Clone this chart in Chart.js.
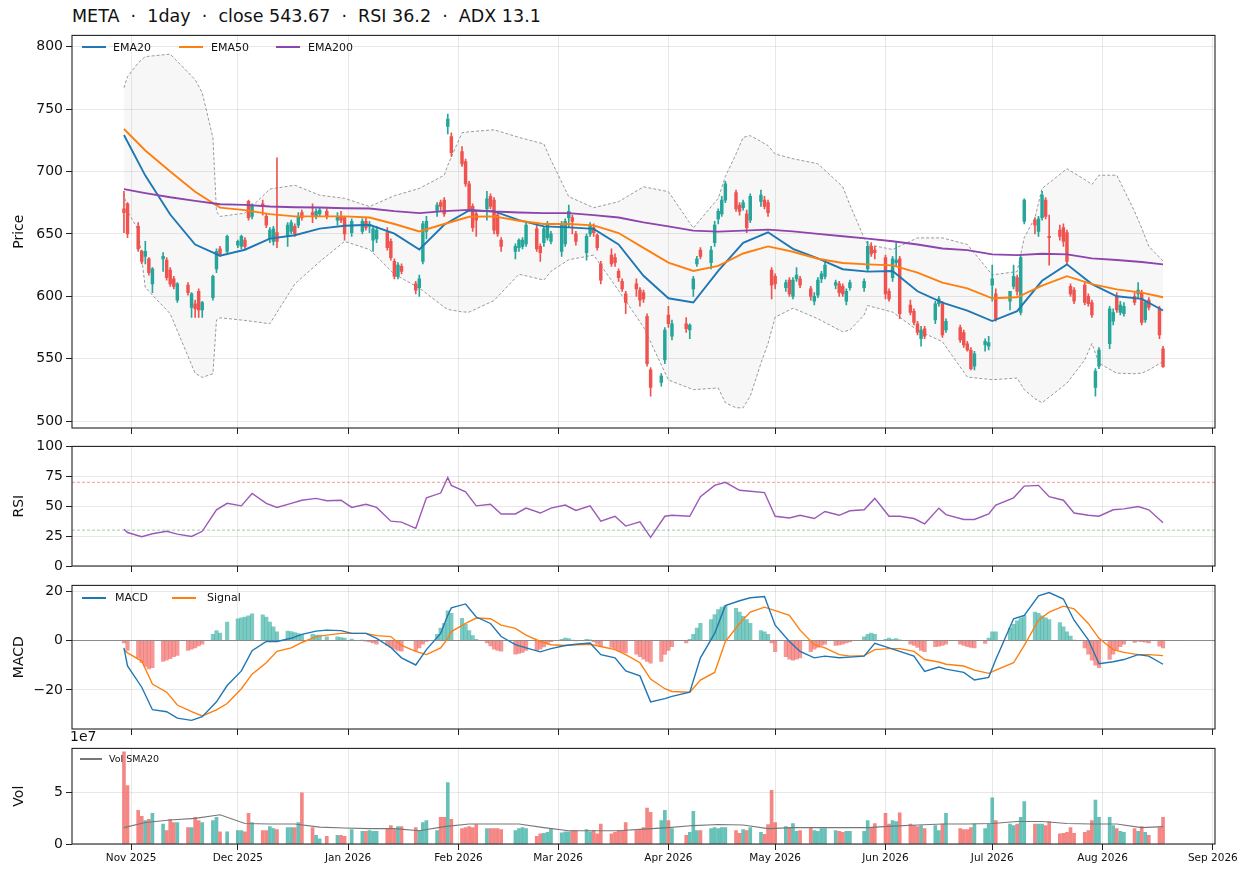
<!DOCTYPE html>
<html>
<head>
<meta charset="utf-8">
<script src="https://cdn.jsdelivr.net/npm/chart.js@4.4.1/dist/chart.umd.min.js"></script>
<style>
  body { margin: 0; background: #fff; font-family: 'DejaVu Sans', sans-serif; color: #111; }
  #wrap { position: relative; width: 1248px; height: 877px; overflow: hidden; }
  canvas { position: absolute; left: 0; }
  .txt { position: absolute; white-space: pre; line-height: 1; }
  .sw { position: absolute; height: 2px; }
</style>
</head>
<body>
<div id="wrap">
  <div class="txt" style="left:72px;top:8px;font-size:17.5px;">META  ·  1day  ·  close 543.67  ·  RSI 36.2  ·  ADX 13.1</div>

  <canvas id="cPrice" width="1248" height="416" style="top:24px"></canvas>
  <canvas id="cRsi" width="1248" height="143" style="top:435px"></canvas>
  <canvas id="cMacd" width="1248" height="167" style="top:574px"></canvas>
  <canvas id="cVol" width="1248" height="139" style="top:737px"></canvas>

  <!-- legends -->
  <div class="sw" style="left:82px;top:46px;width:24px;background:#1f77b4"></div>
  <div class="txt" style="left:113px;top:42px;font-size:11px">EMA20</div>
  <div class="sw" style="left:179px;top:46px;width:24px;background:#ff7f0e"></div>
  <div class="txt" style="left:211px;top:42px;font-size:11px">EMA50</div>
  <div class="sw" style="left:276px;top:46px;width:24px;background:#8e44ad"></div>
  <div class="txt" style="left:308px;top:42px;font-size:11px">EMA200</div>

  <div class="sw" style="left:82px;top:597px;width:24px;background:#1f77b4"></div>
  <div class="txt" style="left:115px;top:592px;font-size:11px">MACD</div>
  <div class="sw" style="left:172px;top:597px;width:24px;background:#ff7f0e"></div>
  <div class="txt" style="left:207px;top:592px;font-size:11px">Signal</div>

  <div class="sw" style="left:80px;top:758px;width:22px;height:1.5px;background:#777"></div>
  <div class="txt" style="left:109px;top:754px;font-size:9.5px">Vol SMA20</div>

  <div class="txt" style="left:70px;top:729px;font-size:14px">1e7</div>
</div>

<script>
// ---- data ----
const holidays = ['2025-11-27', '2025-12-25', '2026-01-01', '2026-01-19', '2026-02-16',
  '2026-04-03', '2026-05-25', '2026-06-19', '2026-07-03'];
const firstDate = '2025-10-30';
const lastDate = '2026-08-18';

// daily candles, one line per week
const opens = [
  670, 674,
  656, 636, 632, 630, 610,
  630, 629, 621, 614, 597,
  609, 591, 594, 604, 589,
  599, 622, 638, 636,
  641, 640, 645, 676, 664,
  674, 664, 646, 644, 651,
  648, 652, 656, 657, 667,
  667, 664, 666, 668,
  661, 664, 663, 651,
  652, 660, 656, 645, 646,
  651, 644, 628, 616, 624,
  610, 607, 628, 652,
  668, 675, 677, 736, 728,
  716, 708, 690, 672, 666,
  670, 680, 677, 665, 645,
  636, 639, 640, 642,
  654, 640, 643, 647, 644,
  636, 642, 663, 663, 650,
  635, 650, 655, 649, 626,
  633, 631, 620, 612, 602,
  610, 605, 603, 584, 541,
  531, 549, 585, 568,
  578, 573, 606, 626, 637,
  627, 643, 662, 666, 677,
  683, 673, 671, 666, 661,
  676, 677, 675, 621, 616,
  607, 613, 600, 614, 614,
  606, 596, 601, 614, 616,
  609, 610, 608, 596, 607,
  607, 622, 640, 637,
  631, 604, 615, 627, 630,
  593, 588, 578, 566, 574,
  581, 594, 594, 573,
  575, 571, 562, 557, 544,
  561, 560, 609, 602,
  596, 608, 615, 587, 660,
  661, 652, 663, 677, 648,
  653, 655, 651, 608, 605,
  609, 600, 595, 527, 544,
  562, 580, 600, 587, 586,
  600, 602, 603, 581, 597,
  590, 558
];
const highs = [
  684, 675,
  659, 637, 644, 631, 623,
  635, 631, 623, 616, 611,
  611, 603, 597, 606, 596,
  617, 638, 640, 649,
  645, 649, 647, 677, 674,
  677, 666, 655, 656, 711,
  659, 661, 658, 667, 669,
  674, 670, 671, 670,
  667, 668, 664, 662,
  662, 663, 660, 656, 656,
  655, 646, 630, 627, 626,
  612, 617, 660, 664,
  675, 677, 679, 746, 731,
  720, 710, 692, 674, 668,
  684, 682, 679, 667, 647,
  642, 646, 647, 660,
  657, 642, 656, 660, 652,
  660, 662, 673, 665, 652,
  650, 659, 658, 650, 628,
  638, 634, 622, 614, 604,
  614, 607, 605, 586, 543,
  538, 575, 592, 581,
  583, 578, 616, 632, 639,
  640, 660, 670, 680, 692,
  685, 675, 677, 669, 682,
  685, 680, 677, 623, 618,
  613, 615, 615, 623, 616,
  608, 603, 615, 620, 627,
  613, 612, 610, 606, 613,
  614, 644, 643, 640,
  633, 606, 632, 643, 632,
  597, 590, 580, 576, 576,
  596, 600, 596, 582,
  577, 573, 564, 559, 556,
  566, 568, 625, 606,
  604, 625, 617, 633, 678,
  663, 664, 684, 679, 665,
  657, 658, 653, 610, 607,
  612, 602, 597, 542, 559,
  592, 590, 603, 596, 595,
  603, 611, 605, 597, 599,
  592, 560
];
const lows = [
  651, 647,
  636, 626, 626, 617, 603,
  620, 613, 608, 606, 595,
  601, 583, 583, 583, 583,
  597, 619, 632, 635,
  639, 638, 638, 661, 662,
  665, 655, 643, 641, 639,
  640, 650, 648, 655, 661,
  659, 662, 664, 662,
  657, 659, 645, 648,
  650, 653, 651, 636, 643,
  637, 629, 614, 614, 618,
  602, 600, 626, 646,
  664, 668, 664, 730, 712,
  704, 688, 668, 652, 648,
  661, 670, 650, 648, 636,
  630, 636, 638, 640,
  636, 628, 640, 645, 642,
  632, 640, 655, 650, 641,
  629, 648, 648, 637, 610,
  624, 624, 612, 604, 586,
  600, 592, 595, 544, 520,
  528, 546, 575, 565,
  571, 566, 600, 624, 630,
  622, 640, 658, 664, 675,
  668, 665, 669, 651, 659,
  672, 670, 664, 598, 606,
  604, 600, 598, 612, 607,
  597, 593, 599, 611, 614,
  606, 600, 600, 593, 605,
  604, 620, 632, 630,
  598, 596, 612, 624, 582,
  585, 577, 569, 560, 566,
  578, 592, 567, 571,
  563, 559, 556, 541, 541,
  556, 557, 596, 580,
  589, 606, 601, 585, 658,
  650, 648, 661, 662, 625,
  645, 640, 626, 600, 594,
  593, 592, 583, 520, 542,
  558, 577, 587, 585, 584,
  593, 599, 577, 579, 589,
  566, 543
];
const closes = [
  667, 650,
  638, 628, 636, 619, 622,
  632, 615, 610, 608, 610,
  603, 602, 590, 589, 595,
  616, 636, 634, 648,
  644, 648, 640, 663, 673,
  672, 657, 653, 654, 644,
  657, 659, 650, 664, 663,
  665, 668, 669, 664,
  664, 661, 650, 660,
  660, 655, 657, 654, 653,
  639, 631, 616, 625, 620,
  605, 614, 658, 660,
  673, 672, 666, 742, 715,
  706, 690, 670, 655, 661,
  678, 672, 653, 650, 640,
  640, 645, 645, 657,
  638, 635, 654, 657, 650,
  657, 660, 668, 660, 644,
  648, 657, 651, 639, 613,
  626, 627, 615, 606, 595,
  606, 597, 598, 546, 527,
  536, 573, 578, 578,
  574, 577, 614, 630, 632,
  637, 657, 668, 677, 690,
  670, 668, 675, 655, 680,
  681, 672, 667, 609, 610,
  611, 602, 613, 617, 609,
  600, 600, 613, 618, 625,
  611, 603, 602, 604, 611,
  612, 640, 634, 635,
  602, 598, 630, 629, 586,
  587, 579, 571, 573, 568,
  594, 598, 569, 580,
  565, 561, 557, 542, 554,
  564, 563, 614, 582,
  604, 616, 604, 631, 677,
  657, 662, 681, 664, 647,
  648, 644, 628, 602, 596,
  595, 594, 585, 540, 557,
  590, 587, 589, 593, 592,
  595, 605, 579, 595, 591,
  569, 543.67
];
// daily volume, millions of shares
const volumes = [
  90, 57,
  33, 27, 23, 24, 30,
  19.5, 13, 24, 21, 21,
  16, 16, 26, 23, 21,
  23, 26, 12, 12,
  13, 13, 12, 30, 21,
  13, 13, 17, 15, 14,
  16, 16, 16, 21, 50,
  16, 8.5, 5, 7.5,
  8.5, 8.5, 7.5, 14,
  12.5, 12.5, 13, 12.5, 12.5,
  15, 18, 14, 17, 17,
  16, 13, 21, 23,
  13, 26, 26, 60, 24,
  15, 16, 17, 16, 19,
  15, 15, 15, 15, 14,
  13, 15, 16, 15,
  7.5, 10, 10.5, 11.5, 15,
  11, 12, 12, 13, 13,
  14, 12, 13, 10, 19.5,
  10, 11.5, 13, 12.5, 21,
  13, 14, 16, 35, 31,
  23, 33, 23, 15,
  8.5, 11.5, 32, 13, 13,
  15, 16, 15, 16, 16,
  13, 10.5, 14, 13, 16,
  11.5, 9.5, 19, 52.5, 21,
  17, 16, 20, 12.5, 13,
  16, 13, 12.5, 15, 15,
  13, 12.5, 11.5, 12.5, 12.5,
  12.5, 23, 16, 20,
  30, 19.5, 23, 22, 30.5,
  19.5, 18, 17, 18, 15,
  18, 13, 19.5, 30,
  15, 14, 14, 16, 19.5,
  15, 19.5, 45, 23,
  19.5, 18, 19.5, 26, 41.5,
  19.5, 19.5, 19.5, 18, 22,
  10, 10.5, 11.5, 16, 10.5,
  11.5, 13, 23, 43, 26,
  26, 18, 15, 12.5, 11.5,
  15, 12.5, 17, 11.5, 8.5,
  16, 26
];
// daily MACD histogram
const macdHist = [
  -1, -4,
  -7, -9, -10.5, -11.5, -11,
  -8.5, -8, -7.3, -6.5, -6,
  -4, -3.5, -3, -2.2, -1.5,
  2.5, 4, 3, 7.5,
  8.8, 9.2, 9.5, 10, 10.8,
  10.4, 9.5, 7.5, 5.5, 3.5,
  3.8, 3.6, 3.2, 2.8, 2.5,
  2.5, 2.2, 2.2, 1.5,
  1.5, 1.2, 1, 0.6,
  0.2, -0.3, -0.6, -1.0, -1.5,
  -2, -2.8, -3.5, -4, -4.3,
  -4.2, -3, -1.5, -0.4,
  2.5, 5, 7, 12, 11,
  9, 6.5, 4, 2, 0.5,
  -1, -2.2, -3.5, -4, -4.3,
  -5.5, -5.2, -4.8, -4,
  -4, -3.5, -2.6, -1.5, -0.5,
  0.5, 1.0, 0.8, 0.2, -0.2,
  0.5, 0.3, -0.6, -1.5, -2.2,
  -2.8, -3.5, -4.2, -4.7, -5,
  -5.5, -6.5, -7.5, -8.5, -9.2,
  -8.5, -5.6, -4, -2.5,
  -1, 0.5, 2.5, 5, 7,
  8.5, 10.5, 12.5, 13.5, 14,
  13, 11.5, 9.8, 8.5, 7,
  4, 3.5, 2.5, -1, -4.5,
  -6.5, -7.5, -8, -7.5, -7,
  -4.5, -3.5, -2.8, -2, -1.5,
  -2, -1.8, -1.5, -1, -0.6,
  1.5, 2.5, 3, 2.5,
  0.5, 1, 0.5, 0.8, 0.3,
  -1.5, -2, -2.8, -4, -4.5,
  -2.5, -2.3, -2, -1.5,
  -1.5, -2, -2.5, -2.8, -3,
  -1.2, 1, 3.5, 3.5,
  5, 6.5, 8, 9.2, 10.2,
  11.5, 11, 10, 9.2, 8.5,
  7.3, 5.5, 3.5, 1.8, 0.2,
  -3, -5.5, -8, -10, -11,
  -7.6, -5.5, -3.8, -2.5, -1.5,
  -0.8, -0.3, -0.5, -0.7, -1,
  -2.3, -3
];

// weekly samples (Wednesdays) for the moving averages
const weekDates = ['2025-10-30', '2025-11-05', '2025-11-12', '2025-11-19', '2025-11-26',
  '2025-12-03', '2025-12-10', '2025-12-17', '2025-12-24', '2025-12-31',
  '2026-01-07', '2026-01-14', '2026-01-21', '2026-01-28', '2026-02-04', '2026-02-11',
  '2026-02-18', '2026-02-25', '2026-03-04', '2026-03-11', '2026-03-18', '2026-03-25',
  '2026-04-01', '2026-04-08', '2026-04-15', '2026-04-22', '2026-04-29', '2026-05-06',
  '2026-05-13', '2026-05-20', '2026-05-27', '2026-06-03', '2026-06-10', '2026-06-17',
  '2026-06-24', '2026-07-01', '2026-07-08', '2026-07-15', '2026-07-22', '2026-07-29',
  '2026-08-05', '2026-08-12', '2026-08-18'];
const ema20 = [729.2, 696.7, 665.5, 641.5, 632.5, 637.3, 646.2, 648.9, 654.2, 656.5,
  657.3, 650.2, 637.5, 657.3, 668.7, 668, 661, 656, 655.2, 654, 641.5, 616.4,
  598.4, 595, 620.3, 642.8, 651.3, 638, 630.4, 621.7, 619.8, 620.3, 604, 595,
  588.6, 580.2, 588.1, 612.4, 625.6, 609.8, 600, 597.9, 588.6];
const ema50 = [734, 716.8, 699.9, 683.8, 671, 669, 665.8, 664, 664, 664,
  663.1, 657.9, 652, 657.9, 663.7, 664, 660.5, 657.9, 657.9, 656.8, 650.7, 638.8,
  627, 620.3, 624.3, 634.3, 640, 635.7, 630.1, 626.7, 625.6, 624.8, 619, 611,
  606.3, 598.4, 599.2, 608.5, 616.1, 609.8, 605.5, 602.9, 599.2];
const ema200 = [685.9, 682.7, 679.3, 676.4, 673.7, 673.2, 671.9, 671.3, 671.1, 670.5,
  670.3, 668.2, 666.6, 668.2, 669.2, 667.9, 667.1, 666.6, 666.6, 665, 663.1, 659.2,
  656, 652.6, 651.8, 652.6, 653.4, 652, 650, 648.1, 646.2, 644.1, 641.5, 638.3,
  637, 633.6, 633, 634.1, 633.6, 630.4, 629.1, 627.5, 625.6];
const volSma20 = [16, 21, 23.5, 25, 28.5, 20, 19.5, 19.5, 16.5, 15.7,
  15, 15, 13, 17, 19.5, 19.5, 19.5, 16, 13, 13, 13, 14.5,
  16, 18, 19, 18.5, 15, 16, 16, 16, 16, 17.5, 18.5, 19.5,
  19.5, 20, 22, 22, 20, 19.5, 19.5, 16, 17];

// Bollinger band samples (weekly plus the sharp turns)
const bbDates = ['2025-10-30', '2025-10-31', '2025-11-03', '2025-11-05', '2025-11-12',
  '2025-11-19', '2025-11-21', '2025-11-24', '2025-11-25', '2025-11-26',
  '2025-12-03', '2025-12-10', '2025-12-17', '2025-12-24', '2025-12-31',
  '2026-01-07', '2026-01-14', '2026-01-21', '2026-01-28', '2026-01-29',
  '2026-02-02', '2026-02-04', '2026-02-11', '2026-02-18', '2026-02-25',
  '2026-02-27', '2026-03-04', '2026-03-11', '2026-03-18', '2026-03-25',
  '2026-04-01', '2026-04-08', '2026-04-15', '2026-04-17', '2026-04-20',
  '2026-04-22', '2026-04-24', '2026-04-27', '2026-04-29', '2026-05-01',
  '2026-05-06', '2026-05-13', '2026-05-20', '2026-05-22', '2026-05-26',
  '2026-05-27', '2026-06-03', '2026-06-10', '2026-06-17', '2026-06-24',
  '2026-07-01', '2026-07-08', '2026-07-10', '2026-07-13', '2026-07-15',
  '2026-07-22', '2026-07-27', '2026-07-29', '2026-07-31', '2026-08-05',
  '2026-08-10', '2026-08-12', '2026-08-14', '2026-08-18'];
const bbUpper = [767, 776, 787, 792, 794,
  773.6, 763, 727, 668, 664,
  666.6, 685.9, 689, 681, 678.5,
  671.9, 680.6, 686.4, 697, 705,
  731, 731.8, 733.4, 727.3, 722,
  709, 679.8, 671, 675.8, 687.7,
  683.8, 654.7, 678.5, 696, 714,
  727.3, 728.7, 724, 720.7, 714,
  710.2, 706.2, 687.7, 673.2, 646.8,
  641.5, 637.5, 646.8, 646.8, 641.5,
  617.2, 619.8, 647, 663, 686.4,
  702.2, 693.5, 689.6, 697, 697,
  668, 654.7, 640, 628.3];
const bbLower = [682.4, 668, 653.4, 607, 586,
  538.4, 535, 538, 581, 582.8,
  580.7, 578, 609.8, 627.7, 644,
  637.5, 617.7, 606.6, 591.3, 589.5,
  587.5, 587.3, 596.6, 617.7, 613,
  620, 629.3, 633, 604.5, 575.4,
  533, 525.2, 526.6, 514.7, 510.7,
  510.7, 520, 546.4, 562.2, 583.3,
  590.5, 582, 571.5, 573, 585,
  592.6, 587.3, 572.8, 563.6, 535.3,
  533.2, 534.5, 525.2, 518, 514.7,
  530.5, 549, 562.2, 546.4, 538.4,
  538, 538.4, 541, 547.7];

// twice-weekly samples (Tue / Fri) for the oscillators
const oscDates = ['2025-10-30', '2025-10-31',
  '2025-11-04', '2025-11-07', '2025-11-11', '2025-11-14', '2025-11-18', '2025-11-21', '2025-11-25', '2025-11-28',
  '2025-12-02', '2025-12-05', '2025-12-09', '2025-12-12', '2025-12-16', '2025-12-19', '2025-12-23', '2025-12-26', '2025-12-30',
  '2026-01-02', '2026-01-06', '2026-01-09', '2026-01-13', '2026-01-16', '2026-01-20', '2026-01-23', '2026-01-27', '2026-01-29', '2026-01-30',
  '2026-02-03', '2026-02-06', '2026-02-10', '2026-02-13', '2026-02-17', '2026-02-20', '2026-02-24', '2026-02-27',
  '2026-03-03', '2026-03-06', '2026-03-10', '2026-03-13', '2026-03-17', '2026-03-20', '2026-03-24', '2026-03-27', '2026-03-31',
  '2026-04-02', '2026-04-07', '2026-04-10', '2026-04-14', '2026-04-17', '2026-04-21', '2026-04-24', '2026-04-28',
  '2026-05-01', '2026-05-05', '2026-05-08', '2026-05-12', '2026-05-15', '2026-05-19', '2026-05-22', '2026-05-26', '2026-05-29',
  '2026-06-02', '2026-06-05', '2026-06-09', '2026-06-12', '2026-06-16', '2026-06-18', '2026-06-23', '2026-06-26', '2026-06-30',
  '2026-07-02', '2026-07-07', '2026-07-10', '2026-07-14', '2026-07-17', '2026-07-21', '2026-07-24', '2026-07-28', '2026-07-31',
  '2026-08-04', '2026-08-07', '2026-08-11', '2026-08-14', '2026-08-18'];
const rsi = [30.7, 28,
  24.5, 27, 29, 26.6, 24.7, 29, 47, 52.4,
  50.3, 60.6, 52.4, 49, 52.4, 55, 56.5, 54.6, 55,
  49, 51.6, 49, 37.5, 36.7, 31.5, 57, 61, 74, 67.4,
  62, 50.3, 51.6, 43.5, 43.5, 48.4, 44.3, 48.4,
  51, 46.5, 50.3, 37.5, 41.6, 33.4, 37, 24, 41.6,
  42.4, 41.6, 58, 67.4, 70, 63.3, 62.5, 61.4,
  41.6, 40.2, 42.4, 39.7, 45.6, 42.4, 46.2, 47, 56.5,
  41.6, 41.6, 39.7, 35.3, 48.4, 43, 38.9, 38.9, 43.5,
  51, 57, 66.8, 67.4, 58, 55, 44.3, 42.4, 41.6,
  47, 47.8, 49.7, 47, 36.2];
const macd = [-3, -10.3,
  -18.9, -28, -28.8, -31.4, -32.3, -30.8, -24.8, -18.2,
  -12.3, -4.1, -0.4, -0.4, 0.9, 2.5, 3.8, 4.2, 4,
  2.9, 2.9, 0.9, -2.8, -7, -9.9, -3.7, 2.9, 10.2, 13.2,
  14.8, 9.5, 6.9, 1.6, -1.7, -3, -4.6, -3.3,
  -2, -1.5, -1, -5.7, -7, -12.3, -14.3, -24.8, -23.5,
  -22.6, -20.9, -7, 2.9, 14.1, 16.1, 17.3, 17.8,
  6.2, -0.4, -4.4, -7, -6.3, -7, -6.7, -6.3, -1.1,
  -3, -4.4, -6.3, -12.5, -10.7, -11.6, -12.9, -16, -14.9,
  -7.7, 8.8, 10.2, 18.1, 19.4, 16.8, 8.2, 0.3, -9.4,
  -8.6, -7.7, -5.7, -6.3, -9.6];
const signal = [-3.7, -5,
  -8.3, -17.6, -20.9, -26.1, -28.8, -30.5, -28.1, -25.5,
  -19.5, -13.6, -9, -4.4, -3, -0.8, 1.6, 2.2, 2.9,
  2.9, 2.9, 2, 1.6, -2, -4.4, -5.7, -3, 0.9, 3.6,
  6.9, 9.1, 8.8, 6.2, 4.9, 2.2, -0.4, -1.7,
  -2, -1.7, -1.5, -2.4, -3.7, -5.7, -9, -15.6, -19.5,
  -20.6, -20.9, -16, -12.9, -0.4, 6.9, 11.5, 13.5,
  12.1, 10.2, 4.2, -1.7, -3, -5.7, -6.3, -6.1, -3.7,
  -3.3, -3.3, -4.4, -7.7, -8.7, -9.6, -10.3, -12, -13.3,
  -12, -9, -2, 8.2, 11.5, 13.9, 12.8, 6.9, 0.9,
  -3.7, -4.8, -5.7, -5.7, -6.1];

const rsiLevels = [70, 30];

// axis ticks
const monthTicks = ['2025-11-01', '2025-12-01', '2026-01-01', '2026-02-01', '2026-03-01', '2026-04-01',
  '2026-05-01', '2026-06-01', '2026-07-01', '2026-08-01', '2026-09-01'];
const monthLabels = ['Nov 2025', 'Dec 2025', 'Jan 2026', 'Feb 2026', 'Mar 2026', 'Apr 2026',
  'May 2026', 'Jun 2026', 'Jul 2026', 'Aug 2026', 'Sep 2026'];
const priceTicks = [500, 550, 600, 650, 700, 750, 800];
const rsiTicks = [0, 25, 50, 75, 100];
const macdTicks = [-20, 0, 20];
const volTicks = [0, 50];

// ---- helpers ----
const DAY = 864e5;
const base = Date.UTC(2025, 9, 1);
function dayNum(s) {
  const [y, m, d] = s.split('-').map(Number);
  return (Date.UTC(y, m - 1, d) - base) / DAY;
}

// trading days: weekdays minus exchange holidays
const dates = [];
for (let t = base + dayNum(firstDate) * DAY; t <= base + dayNum(lastDate) * DAY; t += DAY) {
  const d = new Date(t);
  const wd = d.getUTCDay();
  if (wd === 0 || wd === 6) continue;
  const s = d.toISOString().slice(0, 10);
  if (holidays.includes(s)) continue;
  dates.push(s);
}
const xs = dates.map(dayNum);
const span = xs[xs.length - 1] - xs[0];
const xMin = xs[0] - span * 0.05;
const xMax = xs[xs.length - 1] + span * 0.05;
const monthX = monthTicks.map(dayNum);

const UP = '#26a69a', DOWN = '#ef5350';
const up = closes.map((c, i) => c >= opens[i]);
const gridColor = 'rgba(0,0,0,0.09)';

Chart.defaults.font.family = "'DejaVu Sans', sans-serif";
Chart.defaults.color = '#111';

const framePlugin = {
  id: 'frame',
  afterDraw(chart) {
    const { ctx, chartArea: a } = chart;
    ctx.save();
    ctx.strokeStyle = '#222';
    ctx.lineWidth = 1.1;
    ctx.strokeRect(a.left, a.top, a.right - a.left, a.bottom - a.top);
    ctx.restore();
  }
};

function pts(ds, vals) {
  return ds.map((d, i) => ({ x: dayNum(d), y: vals[i] }));
}

function xScale(showLabels) {
  return {
    type: 'linear', min: xMin, max: xMax, offset: false,
    afterBuildTicks: s => { s.ticks = monthX.map(v => ({ value: v })); },
    afterFit: s => { s.height = showLabels ? 32 : 12; },
    grid: { color: gridColor, tickColor: '#222', tickLength: 6, offset: false },
    border: { display: false },
    ticks: {
      display: showLabels, autoSkip: false, maxRotation: 0, padding: 2,
      color: '#111', font: { size: 10.5 },
      callback: (v, i) => monthLabels[i]
    }
  };
}

function yScale(min, max, tickVals, title, fmt) {
  return {
    type: 'linear', position: 'left', min, max,
    afterBuildTicks: s => { s.ticks = tickVals.map(v => ({ value: v })); },
    afterFit: s => { s.width = 72; },
    grid: { color: gridColor, tickColor: '#222', tickLength: 6 },
    border: { display: false },
    ticks: { color: '#111', font: { size: 14 }, padding: 3, callback: fmt },
    title: { display: true, text: title, color: '#111', font: { size: 14 }, padding: { top: 11, bottom: 0 } }
  };
}

function baseOptions(x, y) {
  return {
    responsive: false,
    animation: false,
    events: [],
    layout: { padding: { left: 0, right: 33, top: 8, bottom: 0 } },
    plugins: { legend: { display: false }, tooltip: { enabled: false } },
    scales: { x, y }
  };
}

function lineDs(data, color, width, order, extra) {
  return Object.assign({
    type: 'line', data, borderColor: color, borderWidth: width,
    pointRadius: 0, tension: 0, fill: false, order
  }, extra || {});
}

const minus = v => (v < 0 ? '\u2212' + Math.abs(v) : String(v));

// ---- price panel ----
new Chart(document.getElementById('cPrice'), {
  type: 'bar',
  data: {
    datasets: [
      lineDs(pts(bbDates, bbUpper), '#9a9a9a', 1, 5,
        { borderDash: [3, 2], fill: '+1', backgroundColor: 'rgba(150,150,150,0.08)' }),
      lineDs(pts(bbDates, bbLower), '#9a9a9a', 1, 5, { borderDash: [3, 2] }),
      {
        type: 'bar', order: 3, grouped: false, barThickness: 1,
        data: xs.map((x, i) => ({ x, y: [lows[i], highs[i]] })),
        backgroundColor: up.map(u => (u ? UP : DOWN))
      },
      {
        type: 'bar', order: 2, grouped: false, barThickness: 2.8,
        data: xs.map((x, i) => ({ x, y: [opens[i], closes[i]] })),
        backgroundColor: up.map(u => (u ? UP : DOWN))
      },
      lineDs(pts(weekDates, ema200), '#8e44ad', 1.9, 0),
      lineDs(pts(weekDates, ema50), '#ff7f0e', 1.9, 0),
      lineDs(pts(weekDates, ema20), '#1f77b4', 1.9, 0)
    ]
  },
  options: baseOptions(xScale(false), yScale(494.5, 809, priceTicks, 'Price', v => String(v))),
  plugins: [framePlugin]
});

// ---- RSI panel ----
new Chart(document.getElementById('cRsi'), {
  type: 'line',
  data: {
    datasets: [
      lineDs([{ x: xMin, y: rsiLevels[0] }, { x: xMax, y: rsiLevels[0] }], 'rgba(229,57,53,0.65)', 0.8, 1, { borderDash: [3, 2] }),
      lineDs([{ x: xMin, y: rsiLevels[1] }, { x: xMax, y: rsiLevels[1] }], 'rgba(67,160,71,0.65)', 0.8, 1, { borderDash: [3, 2] }),
      lineDs(pts(oscDates, rsi), '#9b59b6', 1.4, 0)
    ]
  },
  options: baseOptions(xScale(false), yScale(0, 100, rsiTicks, 'RSI', v => String(v))),
  plugins: [framePlugin]
});

// ---- MACD panel ----
new Chart(document.getElementById('cMacd'), {
  type: 'bar',
  data: {
    datasets: [
      {
        type: 'bar', order: 3, grouped: false, barThickness: 3.5,
        data: xs.map((x, i) => ({ x, y: macdHist[i] })),
        backgroundColor: macdHist.map(h => (h >= 0 ? 'rgba(38,166,154,0.6)' : 'rgba(239,83,80,0.6)'))
      },
      lineDs([{ x: xMin, y: 0 }, { x: xMax, y: 0 }], '#8a8a8a', 1, 2),
      lineDs(pts(oscDates, signal), '#ff7f0e', 1.4, 1),
      lineDs(pts(oscDates, macd), '#1f77b4', 1.4, 0)
    ]
  },
  options: baseOptions(xScale(false), yScale(-35.8, 22.3, macdTicks, 'MACD', minus)),
  plugins: [framePlugin]
});

// ---- volume panel ----
new Chart(document.getElementById('cVol'), {
  type: 'bar',
  data: {
    datasets: [
      {
        type: 'bar', order: 2, grouped: false, barThickness: 3,
        data: xs.map((x, i) => ({ x, y: volumes[i] })),
        backgroundColor: up.map(u => (u ? 'rgba(38,166,154,0.7)' : 'rgba(239,83,80,0.7)'))
      },
      lineDs(pts(weekDates, volSma20), '#777777', 1.1, 0)
    ]
  },
  options: baseOptions(xScale(true), yScale(0, 93.4, volTicks, 'Vol', v => String(v / 10))),
  plugins: [framePlugin]
});
</script>
</body>
</html>
